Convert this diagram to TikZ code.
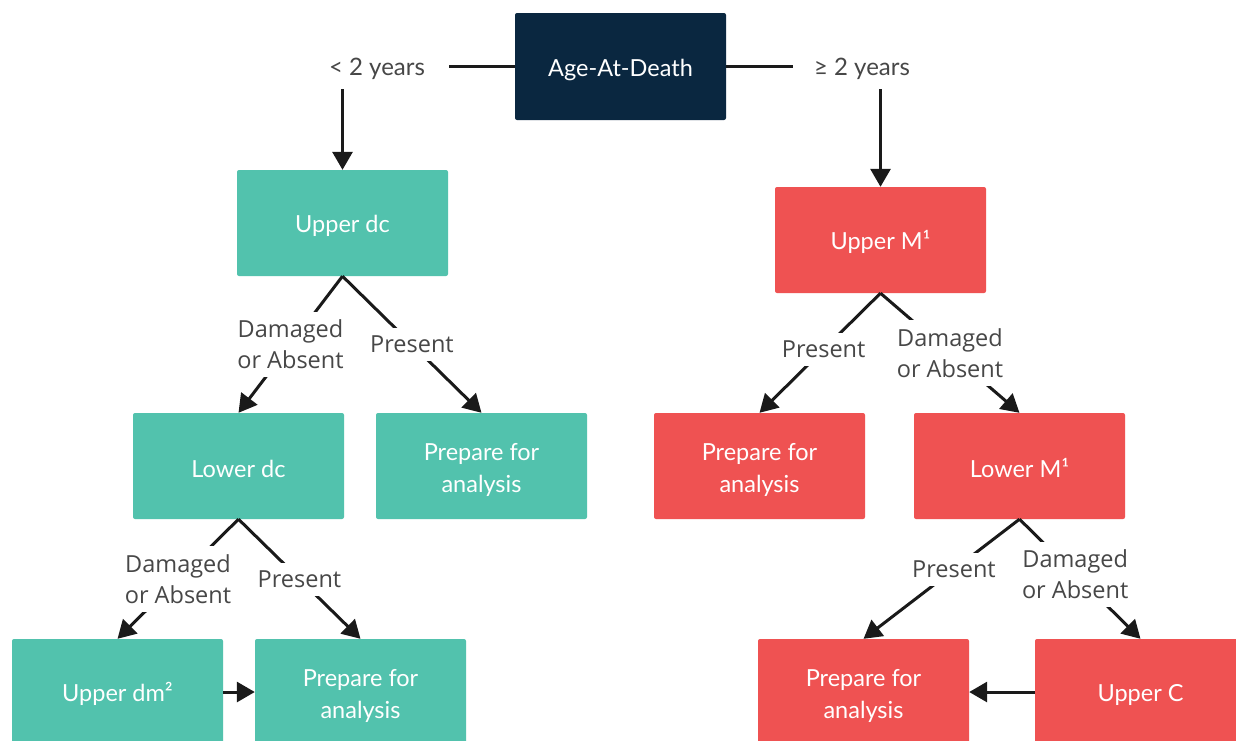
\documentclass[tikz,border=0pt]{standalone}
\usepackage{fontspec}
\setmainfont{Lato}
\newfontfamily\labelfont{Open Sans}
\usetikzlibrary{arrows.meta}
\definecolor{navyc}{HTML}{0A2740}
\definecolor{tealc}{HTML}{52C2AD}
\definecolor{redc}{HTML}{EF5252}
\definecolor{linec}{HTML}{1A1A1A}
\definecolor{labelc}{HTML}{474747}
\tikzset{
  box/.style={rectangle, rounded corners=2pt, minimum width=211pt, minimum height=106pt,
    text=white, font=\fontsize{23.5}{32}\selectfont, align=center, inner sep=0pt,
    execute at begin node={\rule{0pt}{24pt}}},
  twoline/.style={execute at begin node={\rule{0pt}{57pt}}},
  tbox/.style={box, fill=tealc},
  rbox/.style={box, fill=redc},
  nbox/.style={box, fill=navyc, minimum height=107pt},
  conn/.style={draw=linec, line width=3pt, -{Triangle[length=18pt,width=20pt]}},
  lbl/.style={fill=white, text=labelc, font=\labelfont\fontsize{23.5}{31}\selectfont,
    align=center, inner sep=8pt},
  toplbl/.style={fill=white, text=labelc, font=\fontsize{24}{31}\selectfont,
    inner sep=0pt, minimum height=40pt},
}
\begin{document}
\begin{tikzpicture}[x=1pt,y=-1pt]
\useasboundingbox (0,0) rectangle (1236,740);
\fill[white] (0,0) rectangle (1236,740);
\clip (0,0) rectangle (1236,740);
% nodes
\node[nbox] (age) at (620.5,66.5) {Age-At-Death};
\node[tbox] (udc) at (342.5,223) {Upper dc};
\node[rbox] (um) at (880.5,240) {Upper M¹};
\node[tbox] (ldc) at (238.5,466) {Lower dc};
\node[tbox, twoline] (p1) at (481.5,466) {Prepare for\\analysis};
\node[rbox, twoline] (p2) at (759.5,466) {Prepare for\\analysis};
\node[rbox] (lm) at (1019.5,466) {Lower M¹};
\node[tbox] (udm) at (117.5,692) {Upper dm²};
\node[tbox, twoline] (p3) at (360.5,692) {Prepare for\\analysis};
\node[rbox, twoline] (p4) at (863.5,692) {Prepare for\\analysis};
\node[rbox] (uc) at (1140.5,692) {Upper C};
% top connectors
\draw[conn] (age.west) -| (udc.north);
\node[toplbl, minimum width=144pt] (lless) at (377,68.5) {< 2 years};
\draw[conn] (age.east) -| (um.north);
\node[toplbl, minimum width=138pt] (lmore) at (862,68.5) {≥ 2 years};
% diagonal connectors
\draw[conn] (udc.south) -- node[lbl] (l1) {Damaged\\or Absent} (ldc.north);
\draw[conn] (udc.south) -- node[lbl] (l2) {Present} (p1.north);
\draw[conn] (um.south) -- node[lbl, pos=0.47] (l3) {Present} (p2.north);
\draw[conn] (um.south) -- node[lbl] (l4) {Damaged\\or Absent} (lm.north);
\draw[conn] (ldc.south) -- node[lbl] (l5) {Damaged\\or Absent} (udm.north);
\draw[conn] (ldc.south) -- node[lbl] (l6) {Present} (p3.north);
\draw[conn] (lm.south) -- node[lbl, pos=0.42] (l7) {Present} (p4.north);
\draw[conn] (lm.south) -- node[lbl, pos=0.46] (l8) {Damaged\\or Absent} (uc.north);
% horizontal connectors
\draw[conn] (udm.east) -- (p3.west);
\draw[conn] (uc.west) -- (p4.east);
\end{tikzpicture}
\end{document}
